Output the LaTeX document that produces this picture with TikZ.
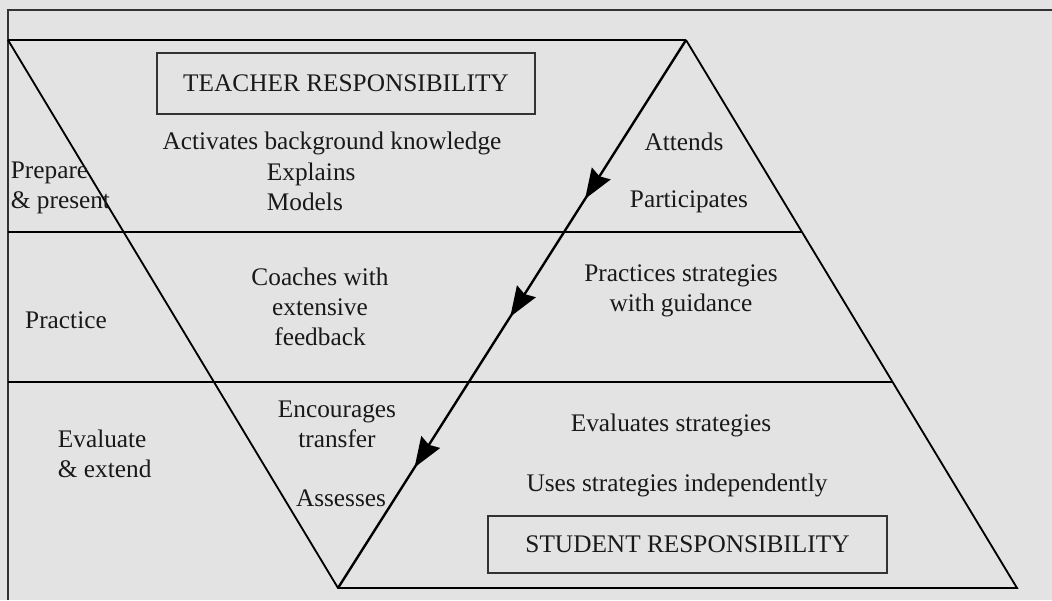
\documentclass[tikz,border=0pt]{standalone}
\usepackage{fontspec}
\setmainfont{Liberation Serif}
\usetikzlibrary{arrows.meta,decorations.markings,calc}

\begin{document}
\begin{tikzpicture}[x=0.025cm, y=-0.025cm, line width=1.3pt, >=Stealth]
    \tikzstyle{lbl}=[text=black!90, font=\fontsize{18}{21.5}\selectfont, inner sep=0pt]
    \tikzstyle{respbox}=[lbl, draw=black!80, line width=1.2pt]
    \tikzstyle{flow}=[line width=1.7pt, postaction={decorate}, decoration={markings,
        mark=at position 0.29 with {\arrow{Stealth[length=0.75cm,width=0.55cm,inset=0.08cm]}},
        mark=at position 0.505 with {\arrow{Stealth[length=0.75cm,width=0.55cm,inset=0.08cm]}},
        mark=at position 0.78 with {\arrow{Stealth[length=0.75cm,width=0.55cm,inset=0.08cm]}}}]
    \fill[black!11] (0,0) rectangle (1052,600);
    \useasboundingbox (0,0) rectangle (1052,600);
    % frame
    \draw[black!80, line width=1.6pt] (8,600) -- (8,10) -- (1052,10);
    % corners of the two triangles
    \coordinate (tl) at (8,40);
    \coordinate (apex) at (686,40);
    \coordinate (vtx) at (338,588);
    \coordinate (br) at (1017,588);
    \coordinate (r1) at ($(apex)!0.3504!(br)$);
    \coordinate (r2) at ($(apex)!0.624!(br)$);
    \draw (tl) -- (apex);
    \draw (8,232) -- (r1);
    \draw (8,382) -- (r2);
    \draw (tl) -- (vtx) -- (br) -- (apex);
    \draw[flow] (apex) -- (vtx);
    % teacher side
    \node[respbox, minimum width=9.45cm, minimum height=1.525cm] (teach) at (346,83.5) {TEACHER RESPONSIBILITY};
    \node[lbl] (act) at (332,143) {Activates background knowledge};
    \node[lbl, align=left, anchor=west] (expl) at (266,187) {Explains\\Models};
    \node[lbl, align=left, anchor=west] (prep) at (10,188) {Prepare\\\& present};
    \node[lbl] (prac) at (66,320) {Practice};
    \node[lbl, align=center] (coach) at (320,307) {Coaches with\\extensive\\feedback};
    \node[lbl, align=left, anchor=west] (evext) at (57,454) {Evaluate\\\& extend};
    \node[lbl, align=center] (enc) at (337,424) {Encourages\\transfer};
    \node[lbl] (assess) at (341,498) {Assesses};
    % student side
    \node[lbl] (att) at (684,142) {Attends};
    \node[lbl] (part) at (689,202) {Participates};
    \node[lbl, align=center] (guid) at (681,291) {Practices strategies\\with guidance};
    \node[lbl] (evs) at (671,425) {Evaluates strategies};
    \node[lbl] (indep) at (677,485) {Uses strategies independently};
    \node[respbox, minimum width=9.975cm, minimum height=1.425cm] (stud) at (687.5,544.5) {STUDENT RESPONSIBILITY};
\end{tikzpicture}
\end{document}
